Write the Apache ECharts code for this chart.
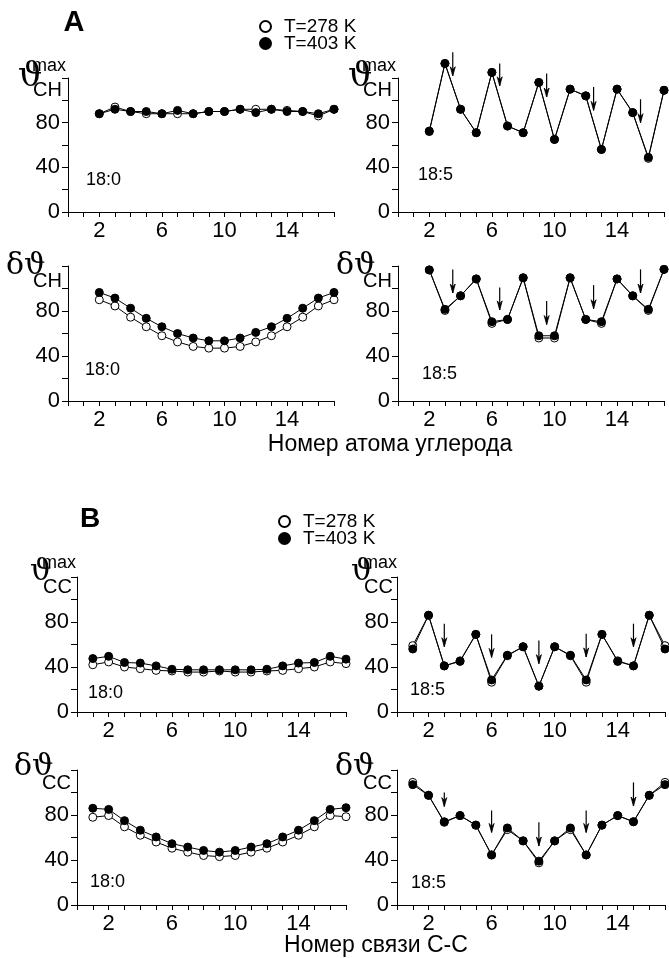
<!DOCTYPE html>
<html>
<head>
<meta charset="utf-8">
<script src="https://cdn.jsdelivr.net/npm/echarts@6/dist/echarts.min.js"></script>
<style>
  html, body { margin: 0; padding: 0; background: #fff; }
  #chart { width: 669px; height: 958px; }
</style>
</head>
<body>
<div id="chart"></div>
<script>
// номера атомов углерода (C2..C17) и связей C-C (1..17)
const carbonNo = [2, 3, 4, 5, 6, 7, 8, 9, 10, 11, 12, 13, 14, 15, 16, 17];
const bondNo = [1, 2, 3, 4, 5, 6, 7, 8, 9, 10, 11, 12, 13, 14, 15, 16, 17];

// A: ϑCH max
const chMax180_278 = [88, 94, 90, 88, 88, 88, 88, 90, 90, 92, 92, 92, 91, 90, 86, 92];
const chMax180_403 = [88, 92, 90, 90, 88, 91, 88, 90, 90, 92, 89, 92, 90, 90, 88, 92];
const chMax185_278 = [72, 133, 92, 71, 125, 77, 71, 116, 65, 110, 104, 56, 110, 89, 48, 109];
const chMax185_403 = [72.5, 133, 92, 71, 125, 77, 71, 116, 65, 110, 104, 56, 110, 89, 49, 109];
// A: δϑCH
const chDelta180_278 = [90, 84.5, 74.5, 66, 58, 52.5, 48.5, 47, 47, 48.5, 52.5, 58, 66, 74.5, 84.5, 90];
const chDelta180_403 = [96.5, 91.5, 82.5, 73.5, 66, 60, 56, 53.5, 53.5, 56, 61, 66, 73.5, 82.5, 91.5, 96.5];
const chDelta185_278 = [116.5, 80.5, 93.5, 108.5, 69, 72.5, 109.5, 56, 56, 109.5, 72.5, 69, 108.5, 93.5, 80.5, 117];
const chDelta185_403 = [116.5, 81.5, 93.5, 108.5, 70.5, 72.5, 109.5, 58, 58, 109.5, 72.5, 70.5, 108.5, 93.5, 81.5, 117];

// B: ϑCC max
const ccMax180_278 = [42, 44.5, 40, 38.5, 37, 36.5, 35.5, 35.5, 36.5, 35.5, 35.5, 36.5, 37, 38.5, 40, 44.5, 43];
const ccMax180_403 = [47.5, 49.5, 44, 43.5, 41, 38, 37.5, 37.5, 37.5, 37.5, 37.5, 38, 41, 43.5, 44, 49.5, 47];
const ccMax185_278 = [59, 86, 41, 45.5, 69, 26.5, 50, 58, 23, 58, 50, 26.5, 69, 45.5, 41, 86, 59];
const ccMax185_403 = [56, 86, 41, 45, 69, 28.5, 50.5, 58, 23, 58, 50.5, 28.5, 69, 45, 41, 86, 56];
// B: δϑCC
const ccDelta180_278 = [78, 79.5, 69.5, 62, 56, 50.5, 47, 44, 43, 44, 47, 50.5, 56, 62, 69.5, 79.5, 78.5];
const ccDelta180_403 = [86, 85, 75, 66.5, 60.5, 54.5, 51.5, 48.5, 47, 48.5, 51.5, 54.5, 60.5, 66.5, 75, 85, 86.5];
const ccDelta185_278 = [109, 97.5, 73.5, 79.5, 71, 44.5, 67, 57, 37.5, 57, 67, 44.5, 71, 79.5, 74, 97.5, 109];
const ccDelta185_403 = [107, 97.5, 74, 79.5, 71, 44.5, 68.5, 57, 39, 57, 68.5, 44.5, 71, 79.5, 74, 97.5, 107];

// стрелки (двойные связи): [x, верх, низ]
const chMaxArrows = [[3.5, 143, 122], [6.5, 133, 113], [9.5, 124, 103], [12.5, 112, 91], [15.5, 101, 80]];
const chDeltaArrows = [[3.5, 117, 96], [6.5, 101, 81], [9.5, 89, 68], [12.5, 103, 82], [15.5, 117, 96]];
const ccMaxArrows = [[3, 78.5, 58], [6, 69, 48.5], [9, 63.5, 43], [12, 69.5, 49], [15, 78.5, 58]];
const ccDeltaArrows = [[3, 100, 87.5], [6, 84, 64.5], [9, 73.5, 52.5], [12, 84, 64.5], [15, 109, 88]];

const xLabels = [2, 6, 10, 14];
const yLabels = [0, 40, 80];
const legendNames = ['T=278 K', 'T=403 K'];

const SANS = 'Liberation Sans, Arial, sans-serif';
const SERIF = 'DejaVu Serif, Liberation Serif, serif';

const panels = [
  { grid: { left: 68, top: 78, width: 266, height: 134 }, x: carbonNo, open: chMax180_278, full: chMax180_403, tag: '18:0', tagPos: [86, 180] },
  { grid: { left: 398, top: 78, width: 266, height: 134 }, x: carbonNo, open: chMax185_278, full: chMax185_403, tag: '18:5', tagPos: [418, 175], arrows: chMaxArrows },
  { grid: { left: 68, top: 266, width: 266, height: 135 }, x: carbonNo, open: chDelta180_278, full: chDelta180_403, tag: '18:0', tagPos: [85, 370] },
  { grid: { left: 398, top: 266, width: 266, height: 135 }, x: carbonNo, open: chDelta185_278, full: chDelta185_403, tag: '18:5', tagPos: [422, 374], arrows: chDeltaArrows },
  { grid: { left: 77, top: 577, width: 269, height: 135 }, x: bondNo, open: ccMax180_278, full: ccMax180_403, tag: '18:0', tagPos: [88, 693] },
  { grid: { left: 397, top: 577, width: 268, height: 135 }, x: bondNo, open: ccMax185_278, full: ccMax185_403, tag: '18:5', tagPos: [410, 690], arrows: ccMaxArrows },
  { grid: { left: 77, top: 770, width: 269, height: 135 }, x: bondNo, open: ccDelta180_278, full: ccDelta180_403, tag: '18:0', tagPos: [90, 882] },
  { grid: { left: 397, top: 770, width: 268, height: 135 }, x: bondNo, open: ccDelta185_278, full: ccDelta185_403, tag: '18:5', tagPos: [411, 883], arrows: ccDeltaArrows }
];

const axisLineStyle = { show: true, lineStyle: { color: '#000', width: 1 } };

const grids = [], xAxes = [], yAxes = [], series = [];
panels.forEach((p, i) => {
  grids.push(Object.assign({ containLabel: false }, p.grid));
  xAxes.push({
    type: 'value', gridIndex: i, min: 0, max: 17, interval: 1,
    axisLine: axisLineStyle,
    axisTick: { show: true, length: 5, lineStyle: { color: '#000' } },
    axisLabel: { fontSize: 22, color: '#000', margin: 8, fontFamily: SANS,
      formatter: v => xLabels.includes(v) ? String(v) : '' },
    splitLine: { show: false }
  });
  yAxes.push({
    type: 'value', gridIndex: i, min: 0, max: 120, interval: 20,
    axisLine: axisLineStyle,
    axisTick: { show: true, length: 6, lineStyle: { color: '#000' } },
    axisLabel: { fontSize: 22, color: '#000', margin: 8, fontFamily: SANS,
      formatter: v => yLabels.includes(v) ? String(v) : '' },
    splitLine: { show: false }
  });
  series.push({
    name: legendNames[0], type: 'line', xAxisIndex: i, yAxisIndex: i,
    data: p.x.map((v, k) => [v, p.open[k]]),
    symbol: 'circle', symbolSize: 8, clip: false, z: 2,
    lineStyle: { color: '#000', width: 1 },
    itemStyle: { color: '#fff', borderColor: '#000', borderWidth: 1 }
  });
  series.push({
    name: legendNames[1], type: 'line', xAxisIndex: i, yAxisIndex: i,
    data: p.x.map((v, k) => [v, p.full[k]]),
    symbol: 'circle', symbolSize: 8, clip: false, z: 3,
    lineStyle: { color: '#000', width: 1 },
    itemStyle: { color: '#000', borderColor: '#000', borderWidth: 1 }
  });
  if (p.arrows) {
    series.push({
      type: 'custom', xAxisIndex: i, yAxisIndex: i, clip: false, z: 4,
      data: p.arrows,
      encode: { x: 0, y: [1, 2] },
      renderItem: (params, api) => {
        const a = api.coord([api.value(0), api.value(1)]);
        const b = api.coord([api.value(0), api.value(2)]);
        return {
          type: 'group',
          children: [
            { type: 'line', shape: { x1: a[0], y1: a[1], x2: b[0], y2: b[1] },
              style: { stroke: '#000', lineWidth: 1.2 } },
            { type: 'polygon', shape: { points: [[b[0] - 2.5, b[1] - 9], [b[0], b[1]], [b[0] + 2.5, b[1] - 9], [b[0], b[1] - 6]] },
              style: { stroke: '#000', lineWidth: 0.8, fill: '#000' } }
          ]
        };
      }
    });
  }
});

function txt(text, x, y, size, family, extra) {
  return {
    type: 'text', x: x, y: y, silent: true,
    style: Object.assign({ text: text, fontSize: size, fontFamily: family, fill: '#000',
      align: 'left', verticalAlign: 'middle' }, extra || {})
  };
}

const graphics = [
  txt('A', 74, 23, 29, SANS, { fontWeight: 'bold', align: 'center' }),
  txt('B', 90, 519, 28, SANS, { fontWeight: 'bold', align: 'center' }),
  txt('Номер атома углерода', 390, 445, 23, SANS, { align: 'center' }),
  txt('Номер связи С-С', 376, 946, 23, SANS, { align: 'center' })
];
panels.forEach(p => graphics.push(txt(p.tag, p.tagPos[0], p.tagPos[1], 18, SANS)));

// подписи осей Y
[0, 330].forEach(dx => {
  graphics.push(txt('ϑ', 18 + dx, 77, 34, SERIF));
  graphics.push(txt('max', 32 + dx, 66, 18, SANS));
  graphics.push(txt('CH', 33 + dx, 90, 20, SANS));
  graphics.push(txt('δϑ', 6 + dx, 266, 30, SERIF));
  graphics.push(txt('CH', 33 + dx, 281, 20, SANS));
});
[0, 321].forEach(dx => {
  graphics.push(txt('ϑ', 30 + dx, 572, 30, SERIF));
  graphics.push(txt('max', 42 + dx, 563, 18, SANS));
  graphics.push(txt('CC', 43 + dx, 587, 20, SANS));
  graphics.push(txt('δϑ', 14 + dx, 767, 30, SERIF));
  graphics.push(txt('CC', 42 + dx, 783, 20, SANS));
});

function legendAt(left, top) {
  return {
    data: [{ name: legendNames[0], icon: 'circle' }, { name: legendNames[1], icon: 'circle' }],
    orient: 'vertical', left: left, top: top,
    itemWidth: 11, itemHeight: 11, itemGap: -2,
    selectedMode: false,
    textStyle: { fontSize: 19, color: '#000', fontFamily: SANS, padding: [0, 0, 0, 8] }
  };
}

const chart = echarts.init(document.getElementById('chart'));
chart.setOption({
  animation: false,
  backgroundColor: '#fff',
  textStyle: { fontFamily: SANS },
  legend: [legendAt(254, 12), legendAt(273, 507)],
  grid: grids,
  xAxis: xAxes,
  yAxis: yAxes,
  series: series,
  graphic: graphics
});
</script>
</body>
</html>
